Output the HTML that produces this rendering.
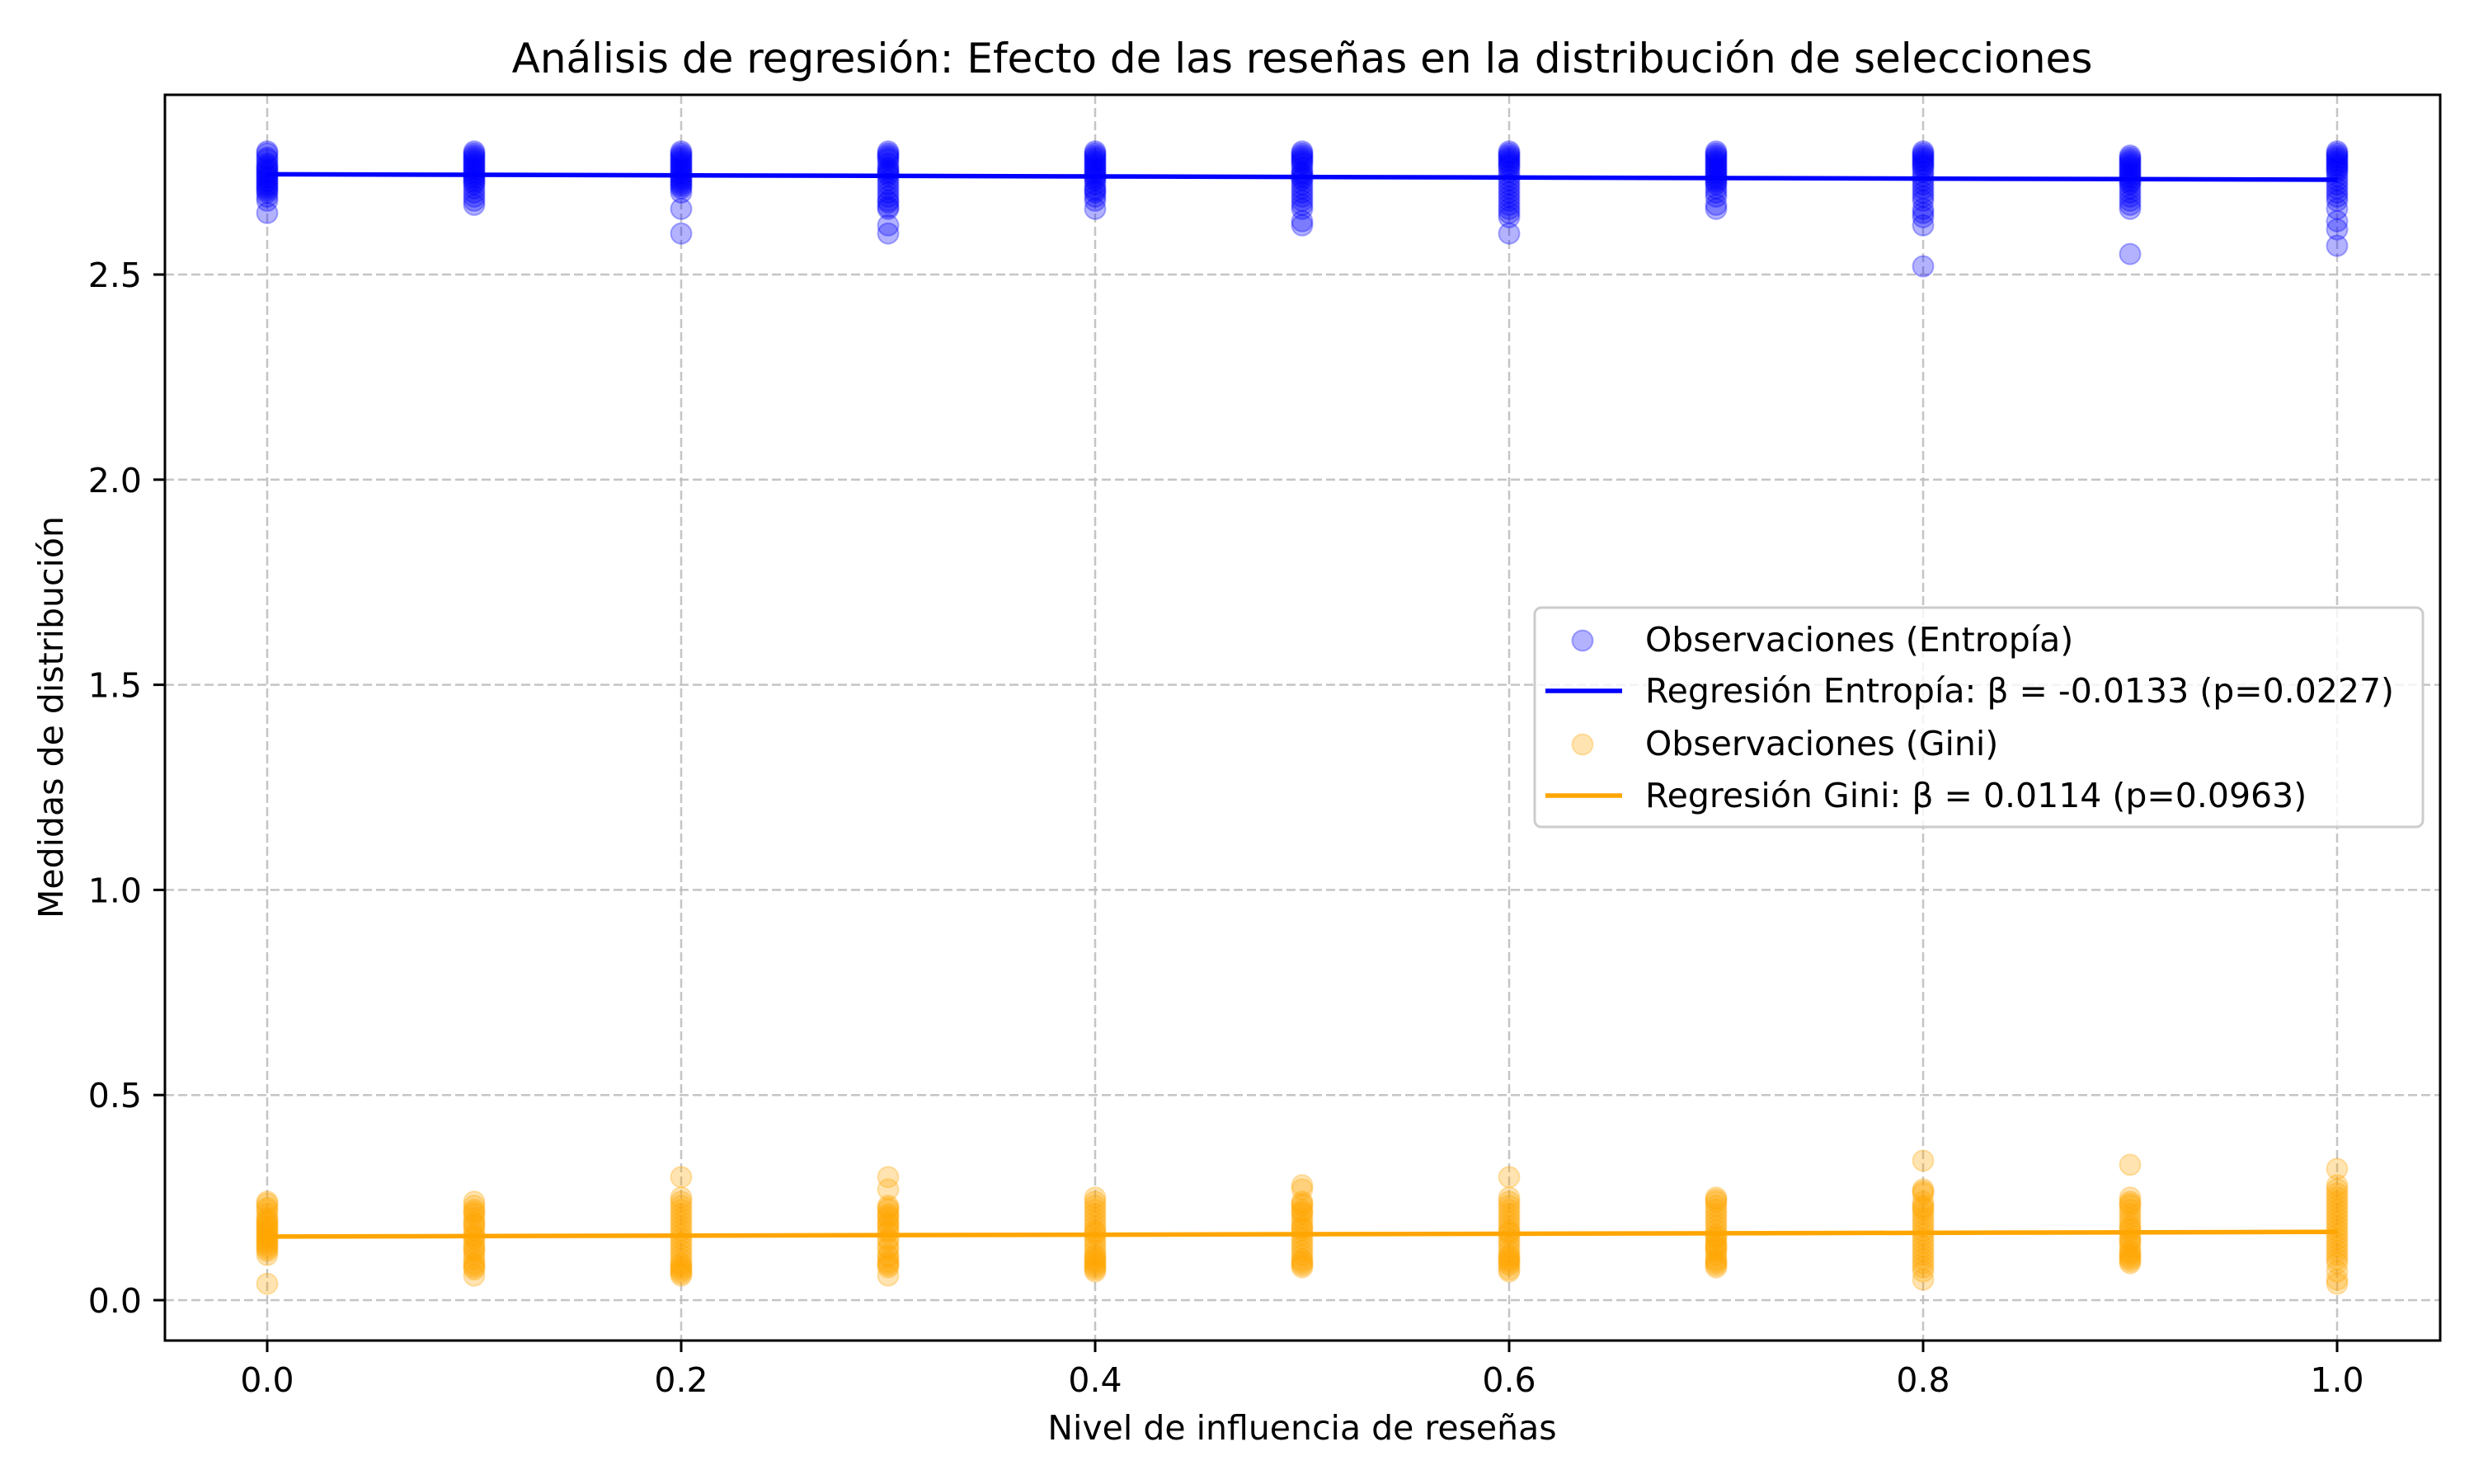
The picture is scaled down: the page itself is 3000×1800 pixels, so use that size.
<!DOCTYPE html>
<html><head><meta charset="utf-8">
<style>
html,body{margin:0;padding:0;background:#fff;}
svg{display:block;font-family:"DejaVu Sans","Liberation Sans",sans-serif;}
</style></head>
<body>
<svg id="chart" width="3000" height="1800" viewBox="0 0 3000 1800" xmlns="http://www.w3.org/2000/svg">
<rect width="3000" height="1800" fill="#fff"/>
<text x="1579" y="88" font-size="50" text-anchor="middle">Análisis de regresión: Efecto de las reseñas en la distribución de selecciones</text>
<g id="grid"></g>
<g id="points"></g>
<g id="lines"></g>
<rect x="200" y="115" width="2759" height="1511" fill="none" stroke="#000" stroke-width="3"/>
<g id="ticks"></g>
<text x="1579" y="1746" font-size="41" text-anchor="middle">Nivel de influencia de reseñas</text>
<text transform="translate(76,870) rotate(-90)" font-size="41" text-anchor="middle">Medidas de distribución</text>
<g transform="translate(-10,0)">
<rect x="1871" y="737" width="1077" height="266" rx="8" fill="#fff" fill-opacity="0.8" stroke="#ccc" stroke-width="3"/>
<circle cx="1929" cy="777" r="12.5" fill="blue" fill-opacity="0.3" stroke="blue" stroke-opacity="0.3" stroke-width="2"/>
<text x="2005" y="790" font-size="41">Observaciones (Entropía)</text>
<line x1="1884" y1="838" x2="1977" y2="838" stroke="blue" stroke-width="5.5"/>
<text x="2005" y="852" font-size="41">Regresión Entropía: β = -0.0133 (p=0.0227)</text>
<circle cx="1929" cy="903" r="12.5" fill="orange" fill-opacity="0.3" stroke="orange" stroke-opacity="0.3" stroke-width="2"/>
<text x="2005" y="916" font-size="41">Observaciones (Gini)</text>
<line x1="1884" y1="965" x2="1977" y2="965" stroke="orange" stroke-width="5.5"/>
<text x="2005" y="979" font-size="41">Regresión Gini: β = 0.0114 (p=0.0963)</text>
</g>
</svg>
<script>
const xLevels = [0.0,0.1,0.2,0.3,0.4,0.5,0.6,0.7,0.8,0.9,1.0];
const xTicks = [0.0,0.2,0.4,0.6,0.8,1.0];
const xTickLabels = ["0.0","0.2","0.4","0.6","0.8","1.0"];
const yTicks = [0.0,0.5,1.0,1.5,2.0,2.5];
const yTickLabels = ["0.0","0.5","1.0","1.5","2.0","2.5"];
const entropyObs = [
 [2.80,2.78,2.77,2.76,2.75,2.74,2.73,2.72,2.71,2.70,2.68,2.65,2.795,2.785,2.765,2.755,2.745,2.735,2.725,2.715,2.705,2.69],
 [2.80,2.79,2.78,2.77,2.76,2.75,2.74,2.73,2.72,2.70,2.68,2.67,2.795,2.785,2.775,2.765,2.755,2.745,2.735,2.725,2.71,2.69],
 [2.80,2.79,2.78,2.77,2.76,2.75,2.74,2.73,2.72,2.71,2.66,2.60,2.795,2.785,2.775,2.765,2.755,2.745,2.735,2.725,2.715,2.70],
 [2.80,2.79,2.78,2.76,2.75,2.74,2.72,2.70,2.68,2.66,2.62,2.60,2.795,2.785,2.77,2.755,2.745,2.73,2.71,2.69,2.675,2.665],
 [2.80,2.79,2.78,2.77,2.76,2.75,2.74,2.73,2.71,2.70,2.68,2.66,2.795,2.785,2.775,2.765,2.755,2.745,2.735,2.72,2.705,2.69],
 [2.80,2.79,2.78,2.77,2.75,2.74,2.73,2.71,2.69,2.67,2.63,2.62,2.795,2.785,2.775,2.76,2.745,2.735,2.72,2.70,2.68,2.66],
 [2.80,2.79,2.78,2.77,2.76,2.74,2.72,2.70,2.68,2.66,2.64,2.60,2.795,2.785,2.775,2.765,2.75,2.73,2.71,2.69,2.67,2.65],
 [2.80,2.79,2.78,2.77,2.76,2.75,2.74,2.73,2.72,2.70,2.67,2.66,2.795,2.785,2.775,2.765,2.755,2.745,2.735,2.725,2.71,2.69],
 [2.80,2.79,2.78,2.77,2.76,2.74,2.72,2.70,2.66,2.64,2.62,2.52,2.795,2.785,2.775,2.765,2.75,2.73,2.71,2.69,2.68,2.65],
 [2.79,2.78,2.77,2.76,2.75,2.74,2.73,2.72,2.70,2.68,2.66,2.55,2.785,2.775,2.765,2.755,2.745,2.735,2.725,2.71,2.69,2.67],
 [2.80,2.79,2.78,2.77,2.76,2.75,2.73,2.70,2.66,2.63,2.61,2.57,2.795,2.785,2.775,2.765,2.755,2.74,2.72,2.71,2.69,2.68]
];
const giniObs = [
 [0.24,0.22,0.20,0.19,0.18,0.17,0.16,0.15,0.14,0.13,0.11,0.04,0.235,0.225,0.21,0.195,0.185,0.175,0.165,0.155,0.145,0.135,0.125,0.12],
 [0.24,0.22,0.21,0.19,0.18,0.16,0.15,0.13,0.12,0.10,0.08,0.06,0.23,0.215,0.20,0.185,0.17,0.155,0.14,0.125,0.11,0.09,0.085,0.075],
 [0.30,0.25,0.22,0.20,0.18,0.16,0.14,0.12,0.10,0.08,0.07,0.06,0.23,0.21,0.19,0.17,0.15,0.13,0.11,0.09,0.085,0.075,0.065,0.24],
 [0.30,0.27,0.23,0.21,0.19,0.17,0.15,0.13,0.11,0.09,0.08,0.06,0.225,0.205,0.185,0.165,0.145,0.125,0.105,0.095,0.085,0.22,0.20,0.18],
 [0.25,0.23,0.21,0.19,0.17,0.15,0.13,0.11,0.10,0.09,0.08,0.07,0.24,0.22,0.20,0.18,0.16,0.14,0.12,0.105,0.095,0.085,0.075,0.165],
 [0.28,0.27,0.24,0.22,0.20,0.18,0.16,0.14,0.12,0.10,0.09,0.08,0.23,0.21,0.19,0.17,0.15,0.13,0.11,0.095,0.085,0.235,0.215,0.175],
 [0.30,0.25,0.23,0.21,0.19,0.17,0.15,0.13,0.11,0.10,0.09,0.07,0.24,0.22,0.20,0.18,0.16,0.14,0.12,0.105,0.095,0.085,0.075,0.165],
 [0.25,0.24,0.22,0.20,0.18,0.16,0.14,0.13,0.12,0.10,0.09,0.08,0.245,0.23,0.21,0.19,0.17,0.15,0.135,0.125,0.11,0.095,0.085,0.155],
 [0.34,0.27,0.26,0.23,0.21,0.19,0.17,0.15,0.13,0.10,0.07,0.05,0.24,0.22,0.20,0.18,0.16,0.14,0.12,0.11,0.09,0.08,0.265,0.225],
 [0.33,0.25,0.23,0.21,0.19,0.17,0.15,0.14,0.12,0.11,0.10,0.09,0.24,0.22,0.20,0.18,0.16,0.145,0.13,0.115,0.105,0.095,0.235,0.175],
 [0.32,0.28,0.26,0.24,0.22,0.20,0.17,0.15,0.12,0.10,0.07,0.04,0.27,0.25,0.23,0.21,0.19,0.18,0.16,0.14,0.13,0.11,0.09,0.05]
];
const entropyFit = [2.7445, 2.7312];
const giniFit = [0.1550, 0.1664];

const NS = "http://www.w3.org/2000/svg";
const X0 = 324, XU = 2510, Y0 = 1577, YU = 497.6;
function sx(v){return X0 + v*XU;}
function sy(v){return Y0 - v*YU;}
function mk(tag, attrs, parent){
  const e = document.createElementNS(NS, tag);
  for (const k in attrs) e.setAttribute(k, attrs[k]);
  parent.appendChild(e); return e;
}
const grid = document.getElementById('grid');
const ticks = document.getElementById('ticks');
xTicks.forEach((t,i)=>{
  const l = mk('line',{x1:sx(t),x2:sx(t),y1:115,y2:1626,stroke:'#bbb','stroke-opacity':0.85,'stroke-width':2.5,'stroke-dasharray':'11 5'},grid);
  
  
  const tk = mk('line',{x1:sx(t),x2:sx(t),y1:1626,y2:1640,stroke:'#000','stroke-width':3},ticks);
  
  
  const tx = mk('text',{x:sx(t),y:1688,'font-size':41,'text-anchor':'middle'},ticks);
  tx.textContent = xTickLabels[i];
  
  
});
yTicks.forEach((t,i)=>{
  const l = mk('line',{x1:200,x2:2959,y1:sy(t),y2:sy(t),stroke:'#bbb','stroke-opacity':0.85,'stroke-width':2.5,'stroke-dasharray':'11 5'},grid);
  
  
  const tk = mk('line',{x1:186,x2:200,y1:sy(t),y2:sy(t),stroke:'#000','stroke-width':3},ticks);
  
  
  const tx = mk('text',{x:172,y:sy(t)+15,'font-size':41,'text-anchor':'end'},ticks);
  tx.textContent = yTickLabels[i];
  
  
});
const pts = document.getElementById('points');
function drawSeries(data, color, name){
  data.forEach((grp,gi)=>{
    grp.forEach(v=>{
      const c = mk('circle',{cx:sx(xLevels[gi]),cy:sy(v),r:12.5,fill:color,'fill-opacity':0.3,stroke:color,'stroke-opacity':0.3,'stroke-width':2},pts);
      
      
    });
  });
}
drawSeries(entropyObs,'blue','entropy-point');
drawSeries(giniObs,'orange','gini-point');
const lines = document.getElementById('lines');
const le = mk('line',{x1:sx(xLevels[0]),y1:sy(entropyFit[0]),x2:sx(xLevels[xLevels.length-1]),y2:sy(entropyFit[1]),stroke:'blue','stroke-width':5.5},lines);


const lg = mk('line',{x1:sx(xLevels[0]),y1:sy(giniFit[0]),x2:sx(xLevels[xLevels.length-1]),y2:sy(giniFit[1]),stroke:'orange','stroke-width':5.5},lines);


</script>
</body></html>
